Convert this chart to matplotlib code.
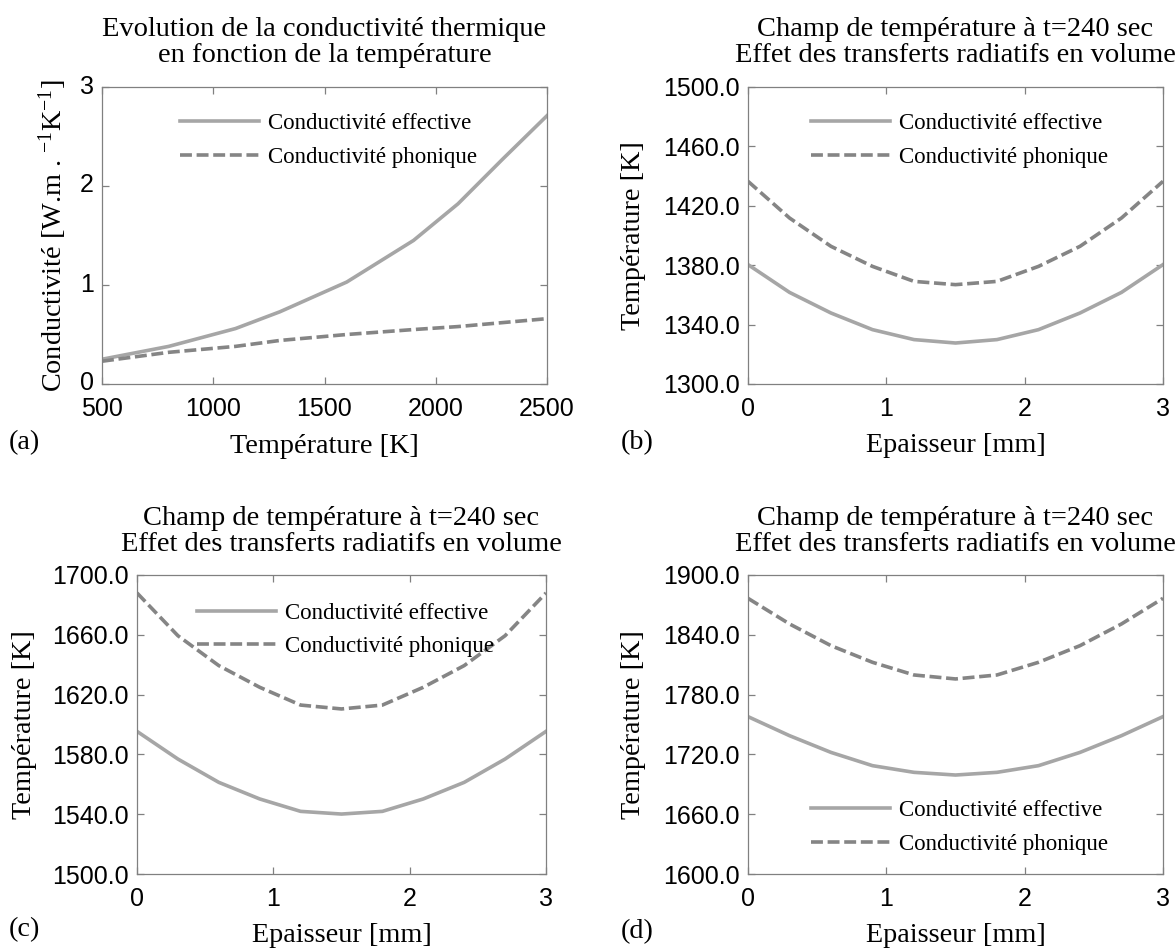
import numpy as np
import matplotlib
matplotlib.use('Agg')
import matplotlib.pyplot as plt
import matplotlib.transforms as mtransforms
from matplotlib.ticker import FormatStrFormatter

plt.rcParams['font.family'] = 'Liberation Serif'
plt.rcParams['mathtext.fontset'] = 'custom'
plt.rcParams['mathtext.rm'] = 'Liberation Serif'
plt.rcParams['mathtext.it'] = 'Liberation Serif:italic'

# panel (a): conductivity vs temperature
temp_a = [500, 800, 1100, 1300, 1600, 1900, 2100, 2300, 2500]
cond_eff = [0.25, 0.38, 0.56, 0.73, 1.03, 1.45, 1.82, 2.27, 2.71]
cond_pho = [0.23, 0.32, 0.38, 0.44, 0.50, 0.55, 0.58, 0.62, 0.66]

# panels (b), (c), (d): temperature across thickness
ep = [0.0, 0.3, 0.6, 0.9, 1.2, 1.5, 1.8, 2.1, 2.4, 2.7, 3.0]
temp_b_eff = [1380.4, 1361.7, 1347.8, 1336.6, 1329.9, 1327.6, 1329.9, 1336.6, 1347.8, 1361.7, 1380.4]
temp_b_pho = [1436.5, 1411.8, 1392.7, 1379.2, 1369.1, 1366.9, 1369.1, 1379.2, 1392.7, 1411.8, 1436.5]
temp_c_eff = [1595.4, 1576.9, 1561.3, 1550.2, 1541.9, 1540.1, 1541.9, 1550.2, 1561.3, 1576.9, 1595.4]
temp_c_pho = [1688.0, 1659.4, 1639.4, 1624.9, 1613.0, 1610.4, 1613.0, 1624.9, 1639.4, 1659.4, 1688.0]
temp_d_eff = [1757.9, 1738.8, 1722.0, 1708.7, 1702.0, 1699.3, 1702.0, 1708.7, 1722.0, 1738.8, 1757.9]
temp_d_pho = [1876.6, 1850.9, 1829.1, 1812.4, 1799.7, 1795.7, 1799.7, 1812.4, 1829.1, 1850.9, 1876.6]

labels = ['Conductivité effective', 'Conductivité phonique']
title_a = 'Evolution de la conductivité thermique\nen fonction de la température'
title_t = 'Champ de température à t=240 sec\nEffet des transferts radiatifs en volume'

c_eff = '#a6a6a6'
c_pho = '#858585'
W, H = 1176, 949

fig = plt.figure(figsize=(W / 100, H / 100), dpi=100)


def px_axes(l, t, r, b):
    return fig.add_axes([l / W, 1 - b / H, (r - l) / W, (b - t) / H])


def style(ax):
    for s in ax.spines.values():
        s.set_color('#808080')
        s.set_linewidth(0.9)
    ax.tick_params(direction='in', top=True, right=True, length=5, width=0.9,
                   color='#808080', labelsize=18, pad=6)
    ax.tick_params(axis='x', pad=9)
    for lab in ax.get_xticklabels() + ax.get_yticklabels():
        lab.set_family('Liberation Sans')


def draw(ax, x, y1, y2, leg_xy, title, title_pad):
    ax.plot(x, y1, color=c_eff, lw=2.6, label=labels[0])
    ax.plot(x, y2, color=c_pho, lw=2.6, ls=(0, (3.3, 1.3)), label=labels[1])
    ax.set_title(title, fontsize=20.5, pad=title_pad, linespacing=1.05)
    ax.legend(loc='upper left', bbox_to_anchor=leg_xy, frameon=False, fontsize=16.5,
              borderpad=0, borderaxespad=0, handlelength=3.45, handletextpad=0.39,
              labelspacing=0.55)


# (a)
ax = px_axes(102, 87, 547, 384)
draw(ax, temp_a, cond_eff, cond_pho, (0.175, 0.912), title_a, 18)
ax.set_xlim(500, 2500)
ax.set_ylim(0, 3)
ax.set_xticks([500, 1000, 1500, 2000, 2500])
ax.set_yticks([0, 1, 2, 3])
ax.set_xlabel('Température [K]', fontsize=20.3)
ax.set_ylabel(r'Conductivité [W.m . $^{-1}$K$^{-1}$]', fontsize=20.3)
ax.xaxis.set_label_coords(0.5, -0.168)
ax.yaxis.set_label_coords(-0.075, 0.5)
style(ax)
# lift the y tick labels a touch so "0" clears "500"
lift = mtransforms.ScaledTranslation(0, 3 / 100, fig.dpi_scale_trans)
for lab in ax.get_yticklabels():
    lab.set_transform(lab.get_transform() + lift)

panels = [
    ((748, 87, 1163, 384), temp_b_eff, temp_b_pho, (1300, 1500, 40), (0.152, 0.912), 18),
    ((137, 575, 546, 874), temp_c_eff, temp_c_pho, (1500, 1700, 40), (0.147, 0.908), 17),
    ((748, 575, 1163, 874), temp_d_eff, temp_d_pho, (1600, 1900, 60), (0.152, 0.248), 17),
]
for box, y1, y2, (lo, hi, st), leg_xy, tpad in panels:
    ax = px_axes(*box)
    draw(ax, ep, y1, y2, leg_xy, title_t, tpad)
    ax.set_xlim(0, 3)
    ax.set_ylim(lo, hi)
    ax.set_xticks([0, 1, 2, 3])
    ax.set_yticks(np.arange(lo, hi + 1, st))
    ax.yaxis.set_major_formatter(FormatStrFormatter('%.1f'))
    ax.set_xlabel('Epaisseur [mm]', fontsize=20.3)
    ax.set_ylabel('Température [K]', fontsize=20.3)
    ax.xaxis.set_label_coords(0.5, -0.165)
    ax.yaxis.set_label_coords(-0.245, 0.5)
    style(ax)

# panel letters
for txt, x, y in [('(a)', 9, 443), ('(b)', 621, 443), ('(c)', 9, 930), ('(d)', 621, 932)]:
    fig.text(x / W, 1 - y / H, txt, fontsize=20.3, ha='left', va='center')

fig.savefig('out.png', dpi=100)
